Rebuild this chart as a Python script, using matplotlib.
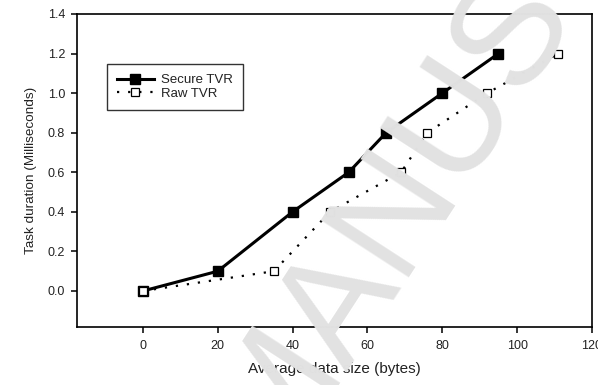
import matplotlib
matplotlib.use("Agg")
import matplotlib.pyplot as plt

# data
secure_x = [0, 20, 40, 55, 65, 80, 95]
secure_y = [0.0, 0.1, 0.4, 0.6, 0.8, 1.0, 1.2]
raw_x = [0, 35, 50, 69, 76, 92, 111]
raw_y = [0.0, 0.1, 0.4, 0.6, 0.8, 1.0, 1.2]

xticks = [0, 20, 40, 60, 80, 100, 120]
yticks = [0.0, 0.2, 0.4, 0.6, 0.8, 1.0, 1.2, 1.4]

plt.rcParams['font.family'] = ['Liberation Sans', 'DejaVu Sans']
txt = '#222222'

fig = plt.figure(figsize=(5.98, 3.85), dpi=100)
ax = fig.add_axes([77/598, 1 - 327/385, (592 - 77)/598, (327 - 14)/385])

ax.plot(secure_x, secure_y, '-', color='black', linewidth=2.2,
        marker='s', markersize=6.5, markerfacecolor='black',
        markeredgecolor='black', label='Secure TVR', clip_on=False, zorder=3)
ax.plot(raw_x, raw_y, linestyle=(0, (1, 4)), color='black', linewidth=1.6,
        marker='s', markersize=5.8, markerfacecolor='white',
        markeredgecolor='black', markeredgewidth=0.9, label='Raw TVR',
        clip_on=False, zorder=3)

ax.set_xlim(-17.6, 120)
ax.set_ylim(-0.182, 1.4)
ax.set_xticks(xticks)
ax.set_yticks(yticks)
ax.set_xticklabels([str(v) for v in xticks])
ax.set_yticklabels([f'{v:.1f}' for v in yticks])
ax.tick_params(direction='out', length=4.5, width=1.1, labelsize=9,
               colors='black', labelcolor=txt, pad=4)
ax.tick_params(axis='x', pad=5)
for s in ax.spines.values():
    s.set_linewidth(1.2)

ax.set_xlabel('Average data size (bytes)', fontsize=11, color=txt, labelpad=7)
ax.set_ylabel('Task duration (Milliseconds)', fontsize=9.7, color=txt, labelpad=8)

leg = ax.legend(loc='upper left', bbox_to_anchor=((107 - 77)/515, 1 - (64 - 14)/313),
                fontsize=9.5, frameon=True, fancybox=False, edgecolor='black',
                handlelength=2.8, handletextpad=0.55, borderpad=0.75,
                labelspacing=0.1, markerscale=1.0, borderaxespad=0)
leg.get_frame().set_linewidth(1.0)
for t in leg.get_texts():
    t.set_color(txt)

# journal watermark crossing the chart
fig.text(390/598, 1 - 216/385, 'MANUS', fontsize=110, color='#e2e2e2',
         rotation=57, ha='center', va='center', zorder=10,
         rotation_mode='anchor', family=['Liberation Sans', 'DejaVu Sans'])

fig.savefig('out.png', dpi=100)
